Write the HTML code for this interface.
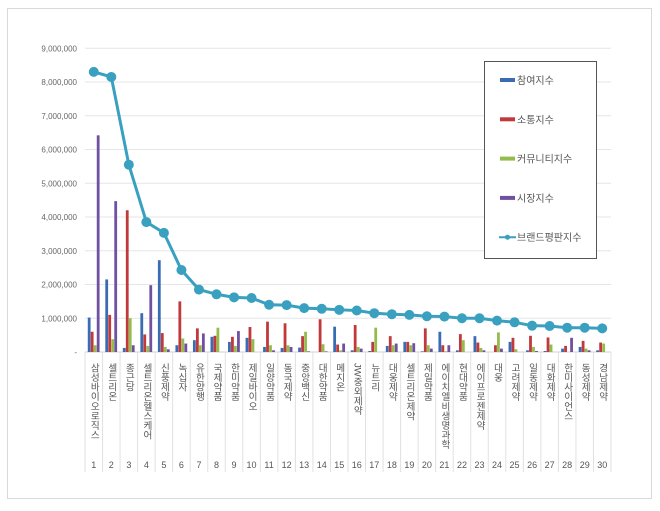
<!DOCTYPE html>
<html><head><meta charset="utf-8"><style>
body{margin:0;background:#fff;}
svg text{font-family:"Liberation Sans","Noto Sans CJK KR",sans-serif;}
</style></head><body>
<svg id="s" width="660" height="506" xmlns="http://www.w3.org/2000/svg">
<rect x="7.5" y="8.5" width="644" height="490" fill="#fff" stroke="#d9d9d9"/>
</svg>
<script>
const s=document.getElementById('s');const NS='http://www.w3.org/2000/svg';
function el(t,a,txt){const e=document.createElementNS(NS,t);for(const k in a)e.setAttribute(k,a[k]);if(txt!==undefined)e.textContent=txt;s.appendChild(e);return e;}
const x0=85,x1=611,y0=352,pm=33.75,cw=(x1-x0)/30;
for(let i=0;i<=9;i++){const y=y0-i*pm;
 if(i>0)el('line',{x1:x0,x2:x1,y1:y,y2:y,stroke:'#e6e6e6','stroke-width':1});
 el('text',{x:77,y:y+3,'text-anchor':'end','font-size':'8','fill':'#666'},i==0?'-':(i+',000,000'));}
el('line',{x1:x0,x2:x1,y1:y0,y2:y0,stroke:'#d0d0d0'});
for(let i=0;i<=30;i++){const x=x0+i*cw;el('line',{x1:x,x2:x,y1:y0,y2:472,stroke:'#e0e0e0'});}
const names=["삼성바이오로직스","셀트리온","종근당","셀트리온헬스케어","신풍제약","녹십자","유한양행","국제약품","한미약품","제일바이오","일양약품","동국제약","중앙백신","대한약품","메지온","JW중외제약","뉴트리","대웅제약","셀트리온제약","제일약품","에이치엘비생명과학","현대약품","에이프로젠제약","대웅","고려제약","일동제약","대화제약","한미사이언스","동성제약","경남제약"];
const line=[8.3,8.15,5.55,3.85,3.53,2.43,1.85,1.71,1.62,1.6,1.4,1.39,1.3,1.28,1.25,1.23,1.15,1.12,1.1,1.06,1.05,1.0,1.0,0.93,0.88,0.78,0.77,0.72,0.72,0.7];
const bars=[[1.02,.6,.2,6.42],[2.15,1.1,.38,4.47],[.12,4.2,1.0,.2],[1.15,.52,.18,1.98],[2.72,.56,.15,.08],[.2,1.5,.4,.25],[.35,.7,.2,.55],[.45,.48,.72,0],[.3,.45,.18,.62],[.42,.74,.38,0],[.15,.9,.2,.05],[.12,.85,.2,.15],[.13,.47,.6,.02],[0,.97,.23,.02],[.75,.22,.05,.25],[.05,.8,.15,.1],[.03,.3,.72,0],[.18,.47,.2,.25],[.3,.3,.2,.26],[.02,.7,.2,.1],[.6,.2,.02,.2],[.05,.53,.35,0],[.47,.28,.12,.05],[0,.2,.58,.1],[.3,.42,.08,0],[.05,.48,.15,.03],[.03,.43,.22,0],[.1,.18,0,.42],[.15,.33,.1,.05],[.05,.28,.25,0]];
const cols=['#3a6cb4','#c0393b','#94bc4c','#7050a0'];
for(let i=0;i<30;i++){const c=x0+(i+.5)*cw;
 for(let j=0;j<4;j++){const h=bars[i][j]*pm;if(h>0)el('rect',{x:c-6+j*3,y:y0-h,width:2.8,height:h,fill:cols[j]});}
 el('text',{x:c,y:363,'font-size':'9.6',fill:'#555','text-anchor':'start',style:'writing-mode:vertical-rl;text-orientation:mixed'},names[i]);
 el('text',{x:c,y:468,'font-size':'9','fill':'#555','text-anchor':'middle'},String(i+1));}
let d='';for(let i=0;i<30;i++){const c=x0+(i+.5)*cw;d+=(i?'L':'M')+c+' '+(y0-line[i]*pm);}
el('path',{d:d,fill:'none',stroke:'#3aa0bf','stroke-width':3});
for(let i=0;i<30;i++){const c=x0+(i+.5)*cw;el('circle',{cx:c,cy:y0-line[i]*pm,r:5,fill:'#3aa0bf'});}
el('rect',{x:484.5,y:61.5,width:112,height:197,fill:'#fff',stroke:'#555'});
const lg=['참여지수','소통지수','커뮤니티지수','시장지수','브랜드평판지수'];
lg.forEach((t,k)=>{const y=80+k*39.3;
 if(k<4)el('rect',{x:500,y:y-2,width:15,height:4,fill:cols[k]});
 else{el('line',{x1:499,x2:516,y1:y,y2:y,stroke:'#3aa0bf','stroke-width':2});el('circle',{cx:507.5,cy:y,r:2.5,fill:'#3aa0bf'});}
 el('text',{x:517,y:y+4,'font-size':'10','fill':'#555'},t);});
</script>
</body></html>
